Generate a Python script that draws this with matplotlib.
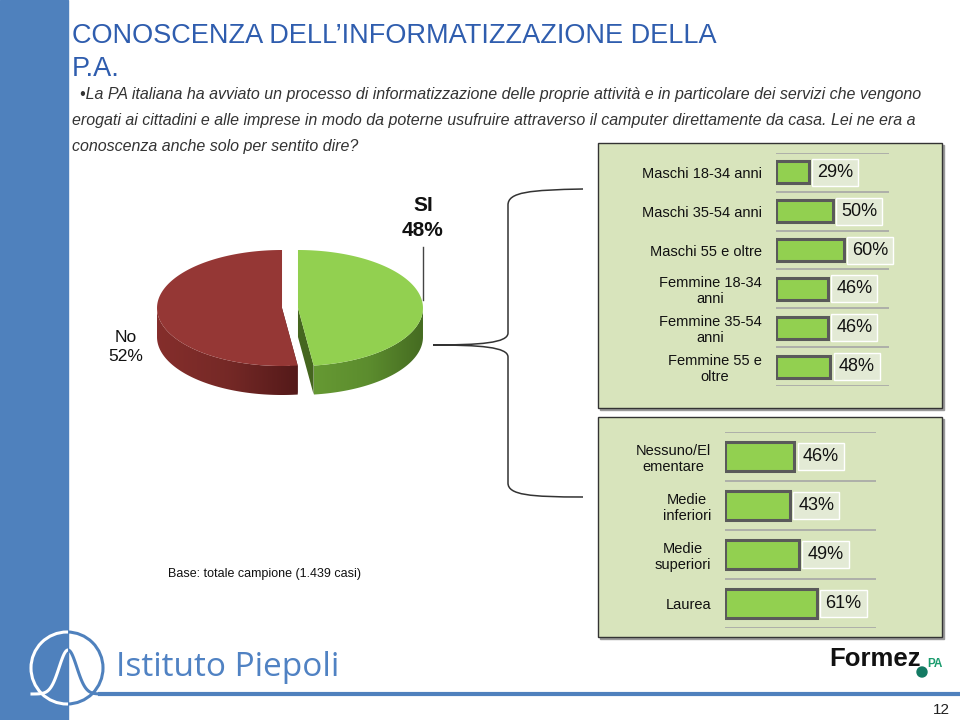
import numpy as np
import matplotlib.pyplot as plt
from matplotlib.patches import Rectangle, Polygon, Circle, PathPatch
from matplotlib.path import Path

# data
pie_labels = ["No", "SI"]
pie_values = [52, 48]

age_labels = ["Maschi 18-34 anni", "Maschi 35-54 anni", "Maschi 55 e oltre",
              "Femmine 18-34\nanni", "Femmine 35-54\nanni", "Femmine 55 e\noltre"]
age_values = [29, 50, 60, 46, 46, 48]

edu_labels = ["Nessuno/El\nementare", "Medie\ninferiori", "Medie\nsuperiori", "Laurea"]
edu_values = [46, 43, 49, 61]

NARROW = ["Liberation Sans Narrow", "Liberation Sans", "DejaVu Sans"]
SANS = ["Liberation Sans", "DejaVu Sans"]
BLUE = "#4F81BD"
PANEL = "#D8E4BC"
BAR = "#92D050"

W, H = 960, 720
fig = plt.figure(figsize=(W / 100, H / 100), dpi=100)
bg = fig.add_axes([0, 0, 1, 1])
bg.axis("off")


def px_axes(x0, y0, x1, y1):
    return fig.add_axes([x0 / W, 1 - y1 / H, (x1 - x0) / W, (y1 - y0) / H])


# left band
bg.add_patch(Rectangle((0, 0), 68, H, color=BLUE, zorder=0))

# title and question
bg.text(72, 36, "CONOSCENZA DELL\u2019INFORMATIZZAZIONE DELLA", family=NARROW,
        fontsize=19.5, color="#2F5DAE", va="center")
bg.text(72, 69, "P.A.", family=NARROW, fontsize=19.5, color="#2F5DAE", va="center")
question = ["\u2022La PA italiana ha avviato un processo di informatizzazione delle proprie attivit\u00e0 e in particolare dei servizi che vengono",
            "erogati ai cittadini e alle imprese in modo da poterne usufruire attraverso il camputer direttamente da casa. Lei ne era a",
            "conoscenza anche solo per sentito dire?"]
for i, line in enumerate(question):
    bg.text(72 if i else 80, 94 + 26 * i, line, family=NARROW, style="italic",
            fontsize=11.5, color="#333333", va="center")

# 3D pie
cx, cy, a, b, d, expl = 290, 308, 125, 58, 29, 8
top_cols = {"No": (0.584, 0.216, 0.208), "SI": (0.573, 0.816, 0.314)}
side_grad = {"No": [(0.52, 0.18, 0.17), (0.46, 0.16, 0.15), (0.33, 0.10, 0.10)],
             "SI": [(0.40, 0.60, 0.20), (0.36, 0.55, 0.18), (0.27, 0.42, 0.13)]}
cut_cols = {"No": (0.30, 0.09, 0.09), "SI": (0.27, 0.40, 0.12)}
fracs = np.array(pie_values) / sum(pie_values)
# SI starts at 12 o'clock going clockwise, No takes the rest
si_end = 90 - 360 * fracs[1]
slices = {"SI": (si_end, 90.0), "No": (90.0, si_end + 360)}


def pt(t, sx, dy=0):
    r = np.radians(t)
    return sx + a * np.cos(r), cy - b * np.sin(r) + dy


geo = {}
for name, (t1, t2) in slices.items():
    mid = np.radians((t1 + t2) / 2)
    geo[name] = (cx + expl * np.cos(mid), t1, t2)

# cut faces at the front split
for name, t in (("No", slices["No"][1]), ("SI", slices["SI"][0])):
    sx = geo[name][0]
    p1, p2 = (sx, cy), pt(t, sx)
    bg.add_patch(Polygon([p1, p2, (p2[0], p2[1] + d), (p1[0], p1[1] + d)],
                         closed=True, color=cut_cols[name], lw=0, zorder=2))

# side walls with a horizontal gradient
for name, (sx, t1, t2) in geo.items():
    ts = np.linspace(t1, t2, 300)
    ts = ts[np.sin(np.radians(ts)) <= 0.0]
    top = [pt(t, sx) for t in ts]
    bottom = [pt(t, sx, d) for t in ts[::-1]]
    poly = Polygon(top + bottom, closed=True, facecolor="none", lw=0, zorder=3)
    bg.add_patch(poly)
    xs = [p[0] for p in top]
    ys = [p[1] for p in top] + [p[1] for p in bottom]
    g = np.array(side_grad[name])
    n = 100
    pos = np.linspace(0, 1, n)
    img = np.stack([np.interp(pos, [0, 0.5, 1], g[:, k]) for k in range(3)], axis=-1)
    im = bg.imshow(img[None, :, :], extent=(min(xs), max(xs), max(ys), min(ys)),
                   aspect="auto", zorder=3, interpolation="bilinear")
    im.set_clip_path(poly)

# top faces
for name, (sx, t1, t2) in geo.items():
    ts = np.linspace(t1, t2, 200)
    pts = [(sx, cy)] + [pt(t, sx) for t in ts]
    bg.add_patch(Polygon(pts, closed=True, color=top_cols[name], lw=0, zorder=4))

bg.set_xlim(0, W)
bg.set_ylim(H, 0)

bg.text(423, 218, f"{pie_labels[1]}\n{pie_values[1]}%", family=SANS, fontsize=15,
        fontweight="bold", ha="center", va="center", linespacing=1.35, color="#111111")
bg.plot([423, 423], [247, 300], color="#444444", lw=1, zorder=5)
bg.text(126, 347, f"{pie_labels[0]}\n{pie_values[0]}%", family=SANS, fontsize=12.5,
        ha="center", va="center", linespacing=1.3, color="#111111")

bg.text(168, 574, "Base: totale campione (1.439 casi)", family=SANS, fontsize=9,
        va="center", color="#111111")

# brace
brace = Path([(583, 189), (530, 190), (508, 192), (508, 205),
              (508, 333),
              (508, 343), (480, 345), (433, 345),
              (480, 345), (508, 347), (508, 357),
              (508, 483),
              (508, 495), (530, 497), (583, 497)],
             [Path.MOVETO, Path.CURVE4, Path.CURVE4, Path.CURVE4,
              Path.LINETO,
              Path.CURVE4, Path.CURVE4, Path.CURVE4,
              Path.CURVE4, Path.CURVE4, Path.CURVE4,
              Path.LINETO,
              Path.CURVE4, Path.CURVE4, Path.CURVE4])
bg.add_patch(PathPatch(brace, fill=False, edgecolor="#333333", lw=1.1, zorder=5))

# panels
for (x0, y0, x1, y1) in [(598, 143, 942, 408), (598, 417, 942, 637)]:
    bg.add_patch(Rectangle((x0 + 2, y0 + 2), x1 - x0, y1 - y0, color="#9a9a9a", zorder=1))
    bg.add_patch(Rectangle((x0, y0), x1 - x0, y1 - y0, facecolor=PANEL,
                           edgecolor="#333333", lw=1, zorder=1))


def bar_panel(ax, labels, values, height, lab_size, pad):
    n = len(values)
    ypos = np.arange(n)
    ax.barh(ypos, values, height=height, color=BAR, edgecolor="#5a5a5a", lw=2.2)
    ax.set_xlim(0, 100)
    ax.set_ylim(n - 0.5, -0.5)
    ax.patch.set_alpha(0)
    for s in ax.spines.values():
        s.set_visible(False)
    for y in np.arange(n + 1) - 0.5:
        ax.axhline(y, color="#a6a6a6", lw=1.2, zorder=0)
    ax.set_xticks([])
    ax.set_yticks(ypos)
    ax.set_yticklabels(labels, family=SANS, fontsize=lab_size, color="#111111")
    ax.tick_params(axis="y", length=0, pad=pad)
    for t in ax.get_yticklabels():
        t.set_multialignment("center")
        t.set_linespacing(1.15)
    for y, v in zip(ypos, values):
        ax.annotate(f"{v}%", (v, y), xytext=(6, 0), textcoords="offset points",
                    family=SANS, fontsize=13, va="center", ha="left", color="#111111",
                    bbox=dict(boxstyle="square,pad=0.28", facecolor="#E3EAD5",
                              edgecolor="white", lw=1))


ax1 = px_axes(776, 153, 889, 386)
bar_panel(ax1, age_labels, age_values, 0.57, 10.5, 10)
ax2 = px_axes(725, 432, 876, 628)
bar_panel(ax2, edu_labels, edu_values, 0.61, 10.5, 10)

# footer
bg.plot([100, 960], [694, 694], color=BLUE, lw=3, zorder=2)
left_clip = Rectangle((0, 0), 68, H, transform=bg.transData)
right_clip = Rectangle((68, 0), W - 68, H, transform=bg.transData)
xs = np.linspace(32, 104, 120)
ys = 694 - 44 * np.exp(-((xs - 68) / 12.5) ** 2)
for col, clip in (("white", left_clip), (BLUE, right_clip)):
    c = Circle((67, 668), 36, fill=False, edgecolor=col, lw=2.2, zorder=3)
    bg.add_patch(c)
    c.set_clip_path(clip)
    ln, = bg.plot(xs, ys, color=col, lw=2.2, zorder=3)
    ln.set_clip_path(clip)
bg.text(116, 668, "Istituto Piepoli", family=["Open Sans", "DejaVu Sans"], fontsize=24,
        color="#5082C3", va="center")

bg.text(829, 659, "Formez", family=SANS, fontsize=18.5, fontweight="bold",
        color="#111111", va="center")
bg.add_patch(Circle((922, 672), 5, color="#137a63", zorder=3))
bg.text(927, 664, "PA", family=SANS, fontsize=8.5, fontweight="bold",
        color="#1b9c6e", va="center")
bg.text(950, 710, "12", family=NARROW, fontsize=11, color="#222222",
        ha="right", va="center")

fig.savefig("out.png", dpi=100)
